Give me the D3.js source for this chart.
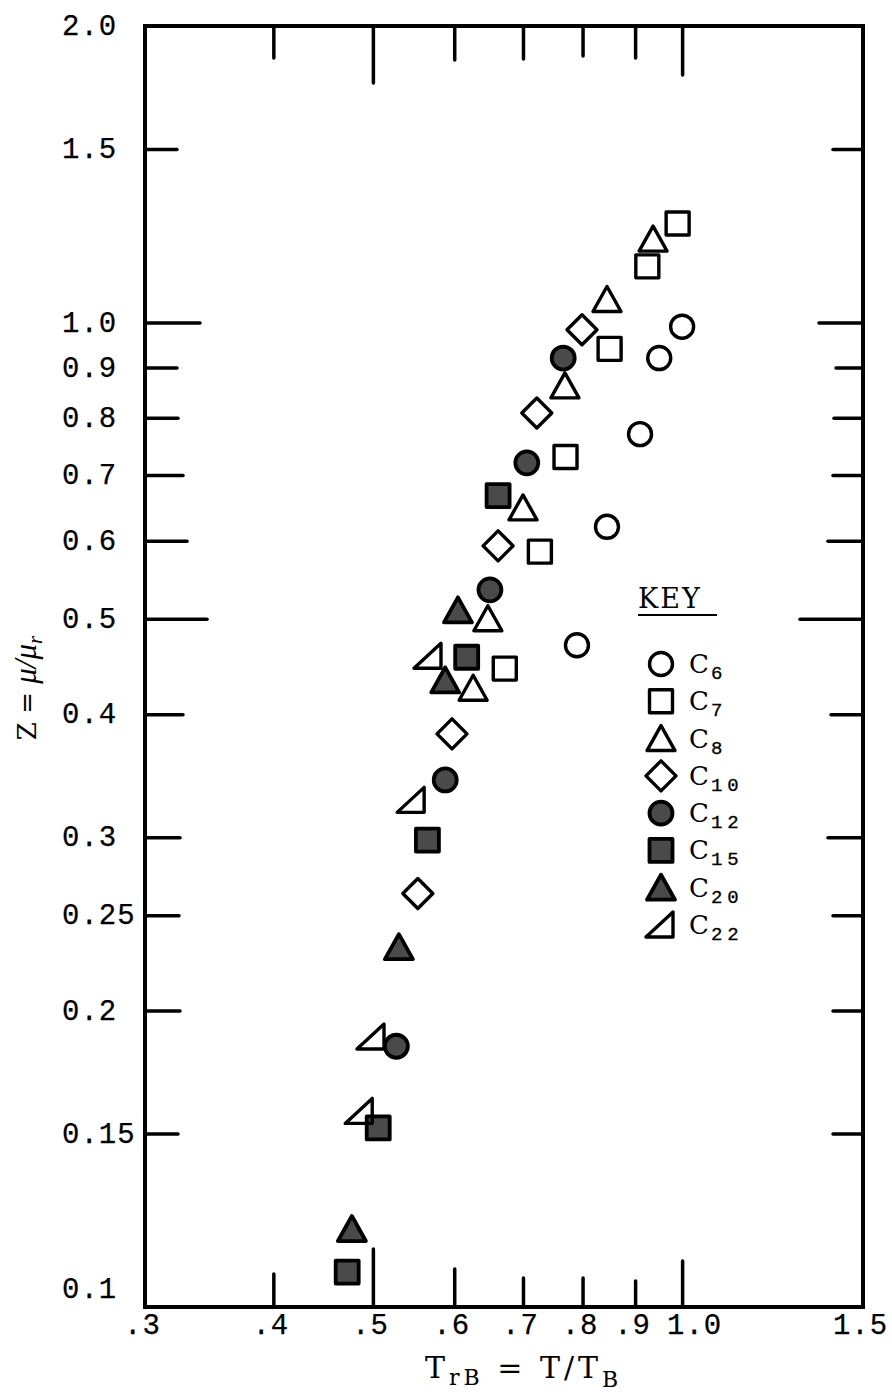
<!DOCTYPE html>
<html>
<head>
<meta charset="utf-8">
<script src="https://cdn.jsdelivr.net/npm/d3@7"></script>
<style>
  body { margin: 0; background: #fff; }
  svg { display: block; }
</style>
</head>
<body>
<div class="svg-container"></div>
<script>
    const chart_width = 892;
    const chart_height = 1396;

    // T/TB (x) and Z = mu/mu_r (y) for each n-alkane
    const c6_x  = [1.00, 0.95, 0.91, 0.845, 0.79];
    const c6_y  = [0.99, 0.92, 0.77, 0.62, 0.47];
    const c7_x  = [0.99, 0.925, 0.85, 0.77, 0.727, 0.672];
    const c7_y  = [1.26, 1.14, 0.94, 0.73, 0.585, 0.445];
    const c8_x  = [0.937, 0.845, 0.769, 0.70, 0.647, 0.626];
    const c8_y  = [1.215, 1.055, 0.862, 0.648, 0.50, 0.425];
    const c10_x = [0.799, 0.722, 0.662, 0.597, 0.553];
    const c10_y = [0.983, 0.809, 0.593, 0.382, 0.263];
    const c12_x = [0.766, 0.706, 0.650, 0.588, 0.527];
    const c12_y = [0.92, 0.72, 0.535, 0.343, 0.184];
    const c15_x = [0.662, 0.617, 0.565, 0.506, 0.472];
    const c15_y = [0.667, 0.457, 0.298, 0.152, 0.1085];
    const c20_x = [0.605, 0.588, 0.530, 0.477];
    const c20_y = [0.51, 0.433, 0.232, 0.12];
    const c22_x = [0.567, 0.546, 0.499, 0.486];
    const c22_y = [0.458, 0.327, 0.188, 0.158];

    const series_names = ["6", "7", "8", "10", "12", "15", "20", "22"];
    const series_xs = [c6_x, c7_x, c8_x, c10_x, c12_x, c15_x, c20_x, c22_x];
    const series_ys = [c6_y, c7_y, c8_y, c10_y, c12_y, c15_y, c20_y, c22_y];

    const x_ticks = [0.3, 0.4, 0.5, 0.6, 0.7, 0.8, 0.9, 1.0, 1.5];
    const x_tick_labels = [".3", ".4", ".5", ".6", ".7", ".8", ".9", "1.0", "1.5"];
    const y_ticks = [0.1, 0.15, 0.2, 0.25, 0.3, 0.4, 0.5, 0.6, 0.7, 0.8, 0.9, 1.0, 1.5, 2.0];
    const y_tick_labels = ["0.1", "0.15", "0.2", "0.25", "0.3", "0.4", "0.5", "0.6", "0.7", "0.8", "0.9", "1.0", "1.5", "2.0"];

    // marker look per series (style, not data)
    const series_shape = ["circle", "square", "triangle", "diamond", "circle", "square", "triangle", "wedge"];
    const series_filled = [false, false, false, false, true, true, true, false];
    const shape_paths = {
      circle: "M11.5,0A11.5,11.5 0 1,1 -11.5,0A11.5,11.5 0 1,1 11.5,0Z",
      square: "M-11.5,-11.5H11.5V11.5H-11.5Z",
      triangle: "M0,-13L14,12H-14Z",
      diamond: "M0,-15L15,0L0,15L-15,0Z",
      wedge: "M12,-13V12H-15Z"
    };

    // hand-drawn tick lengths of the original
    const tick_len_bottom = new Map([[0.4,33],[0.5,58],[0.6,38],[0.7,29],[0.8,29],[0.9,26],[1.0,46]]);
    const tick_len_top = new Map([[0.4,32],[0.5,57],[0.6,34],[0.7,33],[0.8,30],[0.9,32],[1.0,49]]);
    const tick_len_left = new Map([[0.15,33],[0.2,35],[0.25,34],[0.3,35],[0.4,38],[0.5,62],[0.6,42],[0.7,38],[0.8,33],[0.9,32],[1.0,55],[1.5,32]]);
    const tick_len_right = new Map([[0.15,30],[0.2,30],[0.25,30],[0.3,35],[0.4,32],[0.5,63],[0.6,35],[0.7,30],[0.8,29],[0.9,27],[1.0,44],[1.5,30]]);

    const plot_left = 145, plot_right = 863, plot_top = 26, plot_bottom = 1307;
    const mono = "'Liberation Mono', 'DejaVu Sans Mono', monospace";
    const serif = "'DejaVu Serif', 'Liberation Serif', serif";

    const svg = d3.select('.svg-container').append('svg')
      .attr('width', chart_width).attr('height', chart_height)
      .style('font-family', mono);

    const x = d3.scaleLog().domain([0.3, 1.5]).range([plot_left, plot_right]);
    const y = d3.scaleLog().domain([0.1, 2.0]).range([plot_bottom, plot_top]);

    // axes: ticks point inward, lengths adjusted per tick
    const g_bottom = svg.append('g').attr('transform', `translate(0,${plot_bottom})`)
      .call(d3.axisBottom(x).tickValues(x_ticks)
        .tickFormat((d, i) => x_tick_labels[i]).tickSizeOuter(0));
    g_bottom.selectAll('.tick line').attr('y2', d => -(tick_len_bottom.get(d) || 0));
    g_bottom.selectAll('.tick text')
      .attr('y', 27).attr('dy', null)
      .attr('dx', d => d === 1.0 ? 12 : -3);

    const g_top = svg.append('g').attr('transform', `translate(0,${plot_top})`)
      .call(d3.axisTop(x).tickValues(x_ticks.filter(d => tick_len_top.has(d)))
        .tickFormat('').tickSizeOuter(0));
    g_top.selectAll('.tick line').attr('y2', d => tick_len_top.get(d));

    const g_left = svg.append('g').attr('transform', `translate(${plot_left},0)`)
      .call(d3.axisLeft(y).tickValues(y_ticks)
        .tickFormat((d, i) => y_tick_labels[i]).tickSizeOuter(0));
    g_left.selectAll('.tick line').attr('x2', d => tick_len_left.get(d) || 0);
    g_left.selectAll('.tick text')
      .attr('text-anchor', 'start').attr('x', 62 - plot_left)
      .attr('dy', d => d === 0.1 ? '-0.32em' : '0.3em');

    const g_right = svg.append('g').attr('transform', `translate(${plot_right},0)`)
      .call(d3.axisRight(y).tickValues(y_ticks.filter(d => tick_len_right.has(d)))
        .tickFormat('').tickSizeOuter(0));
    g_right.selectAll('.tick line').attr('x2', d => -tick_len_right.get(d));

    svg.selectAll('.domain').remove();
    svg.selectAll('.tick line').attr('stroke', '#000').attr('stroke-width', 3.5)
      .attr('stroke-linecap', 'round');
    svg.selectAll('.tick text')
      .attr('fill', '#000').style('font-family', mono).style('font-size', '29px')
      .style('letter-spacing', '1px')
      .attr('stroke', '#000').attr('stroke-width', 0.25);

    svg.append('rect')
      .attr('x', plot_left).attr('y', plot_top)
      .attr('width', plot_right - plot_left).attr('height', plot_bottom - plot_top)
      .attr('fill', 'none').attr('stroke', '#000').attr('stroke-width', 4);

    // data points
    const points = [];
    series_names.forEach((name, s) => {
      series_xs[s].forEach((xv, i) => points.push({s: s, x: xv, y: series_ys[s][i]}));
    });

    function styleMarker(sel) {
      sel.attr('d', d => shape_paths[series_shape[d.s]])
        .attr('fill', d => series_filled[d.s] ? '#4a4a4a' : 'none')
        .attr('stroke', '#000')
        .attr('stroke-width', d => series_filled[d.s] ? 3.8 : 3.4)
        .attr('stroke-linejoin', 'round');
    }

    svg.append('g').selectAll('path')
      .data(points)
      .enter()
      .append('path')
        .attr('transform', d => `translate(${x(d.x)},${y(d.y)})`)
        .call(styleMarker);

    // key
    const g_key = svg.append('g');
    g_key.append('text')
      .attr('x', 638).attr('y', 608)
      .style('font-family', serif).style('font-size', '27px').style('letter-spacing', '2px')
      .text('KEY');
    g_key.append('line')
      .attr('x1', 638).attr('x2', 717).attr('y1', 615).attr('y2', 615)
      .attr('stroke', '#000').attr('stroke-width', 2);

    const key_row = d3.scaleLinear().domain([0, series_names.length - 1]).range([664, 925]);
    const key_items = g_key.selectAll('g.key-item')
      .data(series_names.map((name, s) => ({s: s, name: name})))
      .enter()
      .append('g')
        .attr('class', 'key-item')
        .attr('transform', d => `translate(661,${key_row(d.s)})`);
    key_items.append('path').call(styleMarker);
    const key_text = key_items.append('text')
      .attr('x', 28).attr('y', 9);
    key_text.append('tspan').style('font-family', serif).style('font-size', '26px').text('C');
    key_text.append('tspan')
      .attr('dy', 6).attr('dx', 2)
      .style('font-family', mono)
      .style('font-size', '19px').style('letter-spacing', '5px')
      .attr('stroke', '#000').attr('stroke-width', 0.3)
      .text(d => d.name);

    // axis titles
    const x_title = svg.append('text')
      .attr('x', 425).attr('y', 1378)
      .style('font-family', serif).style('letter-spacing', '4px');
    x_title.append('tspan').style('font-size', '30px').text('T');
    x_title.append('tspan').attr('dy', 7).style('font-size', '22px').text('rB');
    x_title.append('tspan').attr('dy', -7).style('font-size', '30px').text(' = T/T');
    x_title.append('tspan').attr('dy', 9).style('font-size', '22px').text('B');

    const y_title = svg.append('text')
      .attr('transform', 'translate(36,688) rotate(-90)')
      .attr('text-anchor', 'middle');
    y_title.append('tspan').style('font-family', serif).style('font-size', '26px').text('Z = ');
    y_title.append('tspan')
      .style('font-family', "'Liberation Serif', serif").style('font-style', 'italic')
      .style('font-size', '31px').text('\u03bc/\u03bc');
    y_title.append('tspan').attr('dy', 6)
      .style('font-family', "'Liberation Serif', serif").style('font-style', 'italic')
      .style('font-size', '21px').text('r');
</script>
</body>
</html>
